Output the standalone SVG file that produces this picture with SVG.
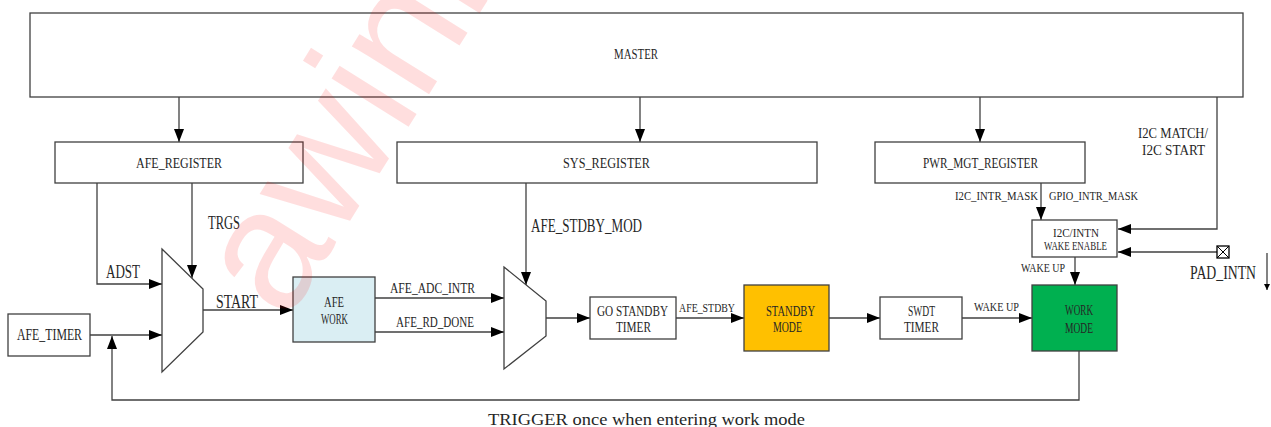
<svg xmlns="http://www.w3.org/2000/svg" width="1271" height="427" viewBox="0 0 1271 427">
<style>
.box{fill:#fff;stroke:#404040;stroke-width:1.3}
.ln{fill:none;stroke:#404040;stroke-width:1.3}
.t{font-family:"Liberation Serif","DejaVu Serif",serif;fill:#262626}
.wm{font-family:"Liberation Sans",Arial,sans-serif;fill:#ff0000;fill-opacity:0.13}
</style>
<defs>
<marker id="ar" markerUnits="userSpaceOnUse" markerWidth="13" markerHeight="10" refX="13" refY="5" orient="auto"><path d="M0,0 L13,5 L0,10 z" fill="#000"/></marker>
<marker id="sm" markerUnits="userSpaceOnUse" markerWidth="6" markerHeight="8" refX="6" refY="3" orient="auto"><path d="M0,0 L6,3 L0,6 z" fill="#000"/></marker>
</defs>
<rect width="1271" height="427" fill="#fff"/>

<g id="connectors">
<line class="ln" x1="179" y1="97" x2="179" y2="142" marker-end="url(#ar)"/>
<line class="ln" x1="640" y1="97" x2="640" y2="142" marker-end="url(#ar)"/>
<line class="ln" x1="980" y1="97" x2="980" y2="142" marker-end="url(#ar)"/>
<polyline class="ln" points="1217,97 1217,229 1118,229" marker-end="url(#ar)"/>
<polyline class="ln" points="97,183 97,284 162,284" marker-end="url(#ar)"/>
<line class="ln" x1="192" y1="183" x2="192" y2="278" marker-end="url(#ar)"/>
<line class="ln" x1="90" y1="335" x2="162" y2="335" marker-end="url(#ar)"/>
<polyline class="ln" points="1079,351 1079,400 112,400 112,336" marker-end="url(#ar)"/>
<line class="ln" x1="203" y1="310" x2="293" y2="310" marker-end="url(#ar)"/>
<line class="ln" x1="375" y1="298" x2="504" y2="298" marker-end="url(#ar)"/>
<line class="ln" x1="375" y1="332" x2="504" y2="332" marker-end="url(#ar)"/>
<line class="ln" x1="526" y1="183" x2="526" y2="285" marker-end="url(#ar)"/>
<line class="ln" x1="546" y1="318" x2="590" y2="318" marker-end="url(#ar)"/>
<line class="ln" x1="676" y1="318" x2="744" y2="318" marker-end="url(#ar)"/>
<line class="ln" x1="829" y1="318" x2="880" y2="318" marker-end="url(#ar)"/>
<line class="ln" x1="962" y1="318" x2="1032" y2="318" marker-end="url(#ar)"/>
<line class="ln" x1="1041" y1="183" x2="1041" y2="220" marker-end="url(#ar)"/>
<line class="ln" x1="1075" y1="257" x2="1075" y2="285" marker-end="url(#ar)"/>
<line class="ln" x1="1217" y1="252" x2="1118" y2="252" marker-end="url(#ar)"/>
<line class="ln" x1="1267" y1="253" x2="1267" y2="290" stroke-width="1" marker-end="url(#sm)"/>
<text class="t" x="208" y="229" font-size="18" textLength="32" lengthAdjust="spacingAndGlyphs">TRGS</text>
<text class="t" x="106" y="278" font-size="18" textLength="34" lengthAdjust="spacingAndGlyphs">ADST</text>
<text class="t" x="216" y="308" font-size="18" textLength="42" lengthAdjust="spacingAndGlyphs">START</text>
<text class="t" x="390" y="293" font-size="15" textLength="85" lengthAdjust="spacingAndGlyphs">AFE_ADC_INTR</text>
<text class="t" x="396" y="327" font-size="15" textLength="78" lengthAdjust="spacingAndGlyphs">AFE_RD_DONE</text>
<text class="t" x="531" y="232" font-size="18" textLength="111" lengthAdjust="spacingAndGlyphs">AFE_STDBY_MOD</text>
<text class="t" x="679" y="312" font-size="13" textLength="56" lengthAdjust="spacingAndGlyphs">AFE_STDBY</text>
<text class="t" x="974" y="311" font-size="13" textLength="45" lengthAdjust="spacingAndGlyphs">WAKE UP</text>
<text class="t" x="1021" y="272" font-size="13" textLength="44" lengthAdjust="spacingAndGlyphs">WAKE UP</text>
<text class="t" x="955" y="200" font-size="13" textLength="83" lengthAdjust="spacingAndGlyphs">I2C_INTR_MASK</text>
<text class="t" x="1049" y="200" font-size="13" textLength="89" lengthAdjust="spacingAndGlyphs">GPIO_INTR_MASK</text>
<text class="t" x="1138" y="138" font-size="15" textLength="70" lengthAdjust="spacingAndGlyphs">I2C MATCH/</text>
<text class="t" x="1142" y="155" font-size="15" textLength="63" lengthAdjust="spacingAndGlyphs">I2C START</text>
<text class="t" x="488" y="425" font-size="17" textLength="317" lengthAdjust="spacingAndGlyphs">TRIGGER once when entering work mode</text>
</g>

<g id="master"><rect class="box" x="30" y="13" width="1213" height="84"/>
<text class="t" x="614" y="59" font-size="15" textLength="44" lengthAdjust="spacingAndGlyphs">MASTER</text></g>

<g id="afe_register"><rect class="box" x="55" y="142" width="248" height="41"/>
<text class="t" x="136" y="168" font-size="15" textLength="86" lengthAdjust="spacingAndGlyphs">AFE_REGISTER</text></g>

<g id="sys_register"><rect class="box" x="397" y="142" width="420" height="41"/>
<text class="t" x="563" y="168" font-size="15" textLength="87" lengthAdjust="spacingAndGlyphs">SYS_REGISTER</text></g>

<g id="pwr_mgt_register"><rect class="box" x="875" y="142" width="210" height="41"/>
<text class="t" x="923" y="168" font-size="15" textLength="115" lengthAdjust="spacingAndGlyphs">PWR_MGT_REGISTER</text></g>

<g id="mux1"><polygon class="box" points="162,249 203,289 203,332 162,372"/></g>

<g id="afe_timer"><rect class="box" x="8" y="314" width="82" height="42"/>
<text class="t" x="17" y="340" font-size="16" textLength="65" lengthAdjust="spacingAndGlyphs">AFE_TIMER</text></g>

<g id="afe_work"><rect class="box" x="293" y="277" width="82" height="65" style="fill:#daeef3"/>
<text class="t" x="324" y="307" font-size="15" textLength="20" lengthAdjust="spacingAndGlyphs">AFE</text>
<text class="t" x="321" y="324" font-size="15" textLength="27" lengthAdjust="spacingAndGlyphs">WORK</text></g>

<g id="mux2"><polygon class="box" points="504,267 546,301 546,336 504,369"/></g>

<g id="go_standby_timer"><rect class="box" x="590" y="297" width="86" height="42"/>
<text class="t" x="597" y="316" font-size="15" textLength="71" lengthAdjust="spacingAndGlyphs">GO STANDBY</text>
<text class="t" x="616" y="332" font-size="15" textLength="35" lengthAdjust="spacingAndGlyphs">TIMER</text></g>

<g id="standby_mode"><rect class="box" x="744" y="285" width="85" height="66" style="fill:#ffc000"/>
<text class="t" x="766" y="316" font-size="15" textLength="49" lengthAdjust="spacingAndGlyphs">STANDBY</text>
<text class="t" x="773" y="332" font-size="15" textLength="29" lengthAdjust="spacingAndGlyphs">MODE</text></g>

<g id="swdt_timer"><rect class="box" x="880" y="297" width="82" height="42"/>
<text class="t" x="908" y="316" font-size="15" textLength="27" lengthAdjust="spacingAndGlyphs">SWDT</text>
<text class="t" x="904" y="332" font-size="15" textLength="35" lengthAdjust="spacingAndGlyphs">TIMER</text></g>

<g id="work_mode"><rect class="box" x="1032" y="285" width="85" height="66" style="fill:#00b050"/>
<text class="t" x="1065" y="315" font-size="15" textLength="28" lengthAdjust="spacingAndGlyphs">WORK</text>
<text class="t" x="1065" y="333" font-size="15" textLength="28" lengthAdjust="spacingAndGlyphs">MODE</text></g>

<g id="wake_enable"><rect class="box" x="1032" y="220" width="85" height="37"/>
<text class="t" x="1053" y="237" font-size="12" textLength="46" lengthAdjust="spacingAndGlyphs">I2C/INTN</text>
<text class="t" x="1044" y="250" font-size="12" textLength="63" lengthAdjust="spacingAndGlyphs">WAKE ENABLE</text></g>

<g id="pad_intn"><rect x="1217" y="246" width="12" height="12" fill="#fff" stroke="#000" stroke-width="1.3"/>
<path d="M1217,246 L1229,258 M1229,246 L1217,258" stroke="#000" stroke-width="1"/>
<text class="t" x="1190" y="279" font-size="18" textLength="66" lengthAdjust="spacingAndGlyphs">PAD_INTN</text></g>

<text class="wm" font-size="172" transform="translate(286,323) rotate(-58)">awinic</text>
</svg>
